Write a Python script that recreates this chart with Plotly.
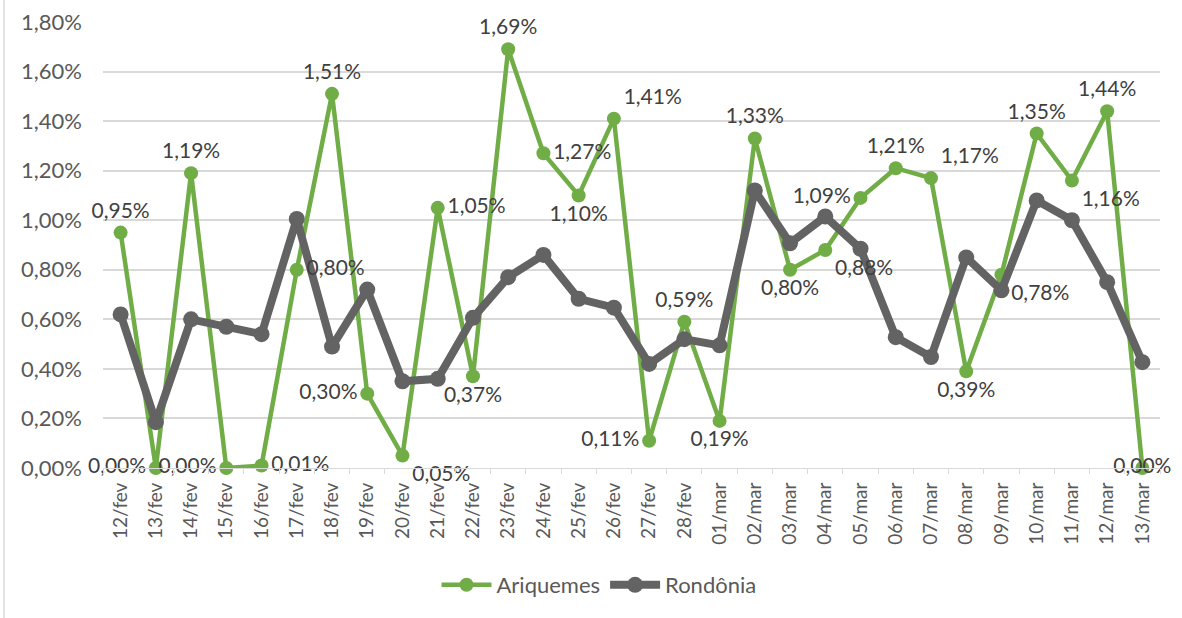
import plotly.graph_objects as go

categories = ["12/fev", "13/fev", "14/fev", "15/fev", "16/fev", "17/fev", "18/fev", "19/fev",
              "20/fev", "21/fev", "22/fev", "23/fev", "24/fev", "25/fev", "26/fev", "27/fev",
              "28/fev", "01/mar", "02/mar", "03/mar", "04/mar", "05/mar", "06/mar", "07/mar",
              "08/mar", "09/mar", "10/mar", "11/mar", "12/mar", "13/mar"]

# values in percent
ariquemes = [0.95, 0.00, 1.19, 0.00, 0.01, 0.80, 1.51, 0.30, 0.05, 1.05, 0.37, 1.69, 1.27, 1.10,
             1.41, 0.11, 0.59, 0.19, 1.33, 0.80, 0.88, 1.09, 1.21, 1.17, 0.39, 0.78, 1.35, 1.16,
             1.44, 0.00]
rondonia = [0.62, 0.185, 0.60, 0.57, 0.54, 1.005, 0.49, 0.72, 0.35, 0.36, 0.606, 0.77, 0.86, 0.683,
            0.647, 0.42, 0.52, 0.495, 1.12, 0.907, 1.015, 0.885, 0.528, 0.448, 0.85, 0.717, 1.08,
            1.0, 0.75, 0.427]

y_tickvals = [0, 0.2, 0.4, 0.6, 0.8, 1.0, 1.2, 1.4, 1.6, 1.8]

label_pos = ["top center", "middle left", "top center", "middle left", "middle right",
             "middle right", "top center", "middle left", "bottom right", "middle right",
             "bottom center", "top center", "middle right", "bottom center", "top right",
             "middle left", "top center", "bottom center", "top center", "bottom center",
             "bottom right", "middle left", "top center", "top right", "bottom center",
             "bottom right", "top center", "bottom right", "top center", "middle center"]

GREEN = "#70AD47"
GRAY = "#636363"
FONT = "Lato"

def fmt(v):
    return f"{v:.2f}".replace(".", ",") + "%"

ya = [v / 100 for v in ariquemes]
yr = [v / 100 for v in rondonia]

fig = go.Figure()
fig.add_trace(go.Scatter(
    x=categories, y=ya, name="Ariquemes",
    mode="lines+markers",
    line=dict(color=GREEN, width=4.5),
    marker=dict(color=GREEN, size=14),
    cliponaxis=False,
))
fig.add_trace(go.Scatter(
    x=categories, y=yr, name="Rondônia",
    mode="lines+markers",
    line=dict(color=GRAY, width=8),
    marker=dict(color=GRAY, size=16),
    cliponaxis=False,
))
# data labels of Ariquemes drawn on top of everything
fig.add_trace(go.Scatter(
    x=categories, y=ya, name="labels", showlegend=False, hoverinfo="skip",
    mode="markers+text",
    marker=dict(color="rgba(0,0,0,0)", size=14),
    text=[fmt(v) for v in ariquemes], textposition=label_pos,
    textfont=dict(family=FONT, size=21, color="#404040"),
    cliponaxis=False,
))

L, R, T, B = 103, 22, 22, 150
W, H = 1182, 618
PH = H - T - B
PW = W - L - R
fig.update_layout(
    template="none",
    width=W, height=H,
    margin=dict(l=L, r=R, t=T, b=B, autoexpand=False),
    plot_bgcolor="white", paper_bgcolor="white",
    separators=",.",
    font=dict(family=FONT, color="#595959", size=20),
    showlegend=True,
    legend=dict(orientation="h", x=(599 - L) / PW, xanchor="center", y=(468 - 585) / PH,
                yanchor="middle",
                font=dict(family=FONT, size=22, color="#595959"), itemwidth=50,
                traceorder="normal", bgcolor="rgba(0,0,0,0)"),
    xaxis=dict(
        type="category", categoryorder="array", categoryarray=categories,
        range=[-0.5, len(categories) - 0.5], autorange=False,
        tickangle=-90, tickfont=dict(family=FONT, size=19, color="#595959"),
        showline=True, linecolor="#d9d9d9", linewidth=1,
        ticks="outside", tickson="boundaries", ticklen=5, tickcolor="#d9d9d9",
        showgrid=False, zeroline=False, ticklabelstandoff=6, automargin=False,
    ),
    yaxis=dict(
        range=[0, 0.018], autorange=False,
        tickvals=[v / 100 for v in y_tickvals], tickformat=".2%",
        tickfont=dict(family=FONT, size=22, color="#595959"),
        showgrid=True, gridcolor="#d9d9d9", gridwidth=1.5,
        zeroline=False, showline=False, ticks="", ticklabelstandoff=20, automargin=False,
    ),
)

# chart-area border line at the left edge
fig.add_shape(type="line", xref="paper", yref="paper",
              x0=(4 - L) / PW, x1=(4 - L) / PW,
              y0=-B / PH, y1=1 + T / PH,
              line=dict(color="#d9d9d9", width=1.5))

fig.write_html("out.html", config={"displayModeBar": False},
               post_script="document.body.style.margin='0';")
